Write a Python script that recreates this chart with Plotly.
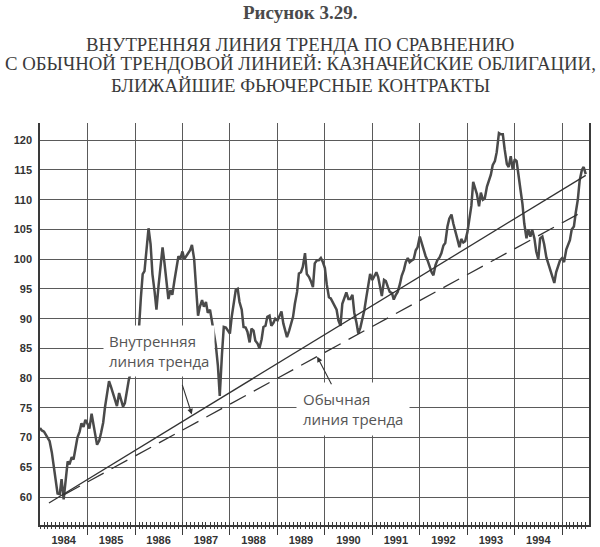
import pandas as pd
import plotly.graph_objects as go

# ---------------- data ----------------
# semi-monthly samples (1st and 15th of each month), Jan 1984 .. Jul 1995
start_date = "1984-01-01"
end_date = "1995-07-01"

price_1984 = [71.6, 71.2, 71.0, 70.5, 70.0, 69.4, 67.5, 65.5, 63.0, 60.6, 60.5, 63.0,
              59.6, 62.5, 66.0, 65.5, 66.7, 66.3, 68.3, 70.0, 71.0, 72.4, 71.8, 73.0]
price_1985 = [72.3, 71.5, 74.0, 72.5, 70.5, 68.8, 69.5, 70.8, 72.5, 75.1, 78.0, 79.5,
              78.5, 77.5, 76.0, 75.3, 77.5, 76.5, 75.2, 75.8, 78.3, 79.8, 81.0, 84.0]
price_1986 = [85.5, 87.0, 88.5, 93.5, 97.5, 98.0, 101.5, 105.2, 102.5, 97.5, 94.5, 91.5,
              95.5, 99.0, 102.0, 99.5, 95.8, 93.3, 94.8, 94.0, 96.5, 98.8, 100.5, 100.0]
price_1987 = [101.3, 100.0, 100.5, 101.0, 101.5, 102.4, 100.0, 95.5, 90.5, 92.0, 93.1, 92.0,
              92.8, 91.0, 91.5, 89.7, 87.5, 85.5, 82.0, 77.0, 84.0, 88.6, 88.5, 88.0]
price_1988 = [87.5, 90.3, 93.0, 94.8, 95.0, 92.8, 91.5, 88.6, 88.5, 87.8, 86.0, 88.3,
              88.0, 86.3, 85.8, 85.0, 86.5, 88.6, 88.8, 90.3, 90.5, 88.8, 89.3, 90.0]
price_1989 = [89.7, 90.5, 91.2, 89.2, 88.0, 86.9, 88.0, 89.2, 90.3, 92.5, 94.5, 97.6,
              97.8, 98.7, 101.0, 97.5, 97.0, 96.3, 95.3, 99.3, 99.8, 99.8, 100.2, 99.6]
price_1990 = [98.5, 95.8, 93.6, 93.4, 92.8, 92.0, 91.5, 89.7, 88.8, 92.5, 93.5, 94.4,
              93.3, 93.3, 94.0, 91.0, 89.3, 87.5, 88.5, 89.7, 91.5, 93.5, 95.6, 97.5]
price_1991 = [96.5, 97.0, 97.8, 97.0, 95.0, 93.8, 96.5, 96.3, 95.3, 94.5, 94.3, 93.2,
              94.0, 94.5, 95.8, 97.2, 98.2, 99.5, 100.2, 99.5, 99.8, 100.0, 101.5, 102.0]
price_1992 = [103.8, 102.8, 101.3, 100.5, 99.8, 98.7, 97.8, 97.3, 99.0, 99.8, 100.3, 101.0,
              102.3, 102.7, 105.5, 106.8, 107.5, 106.0, 104.8, 103.5, 102.0, 103.4, 102.8, 103.0]
price_1993 = [104.5, 106.5, 109.0, 113.0, 112.0, 111.0, 108.9, 111.2, 110.0, 110.2, 112.2, 113.0,
              114.2, 115.8, 116.5, 118.0, 121.2, 121.0, 121.0, 118.5, 116.0, 115.5, 117.3, 115.2]
price_1994 = [116.8, 116.5, 113.2, 111.5, 109.3, 106.0, 103.5, 105.0, 103.8, 105.0, 103.5, 101.3,
              100.0, 103.5, 103.8, 102.5, 100.3, 99.3, 98.5, 97.5, 96.0, 97.8, 99.0, 99.8]
price_1995 = [100.2, 99.5, 101.6, 102.3, 103.2, 105.0, 105.5, 107.8, 110.0, 113.2, 115.0, 115.5, 114.3]

# internal trend line (solid) and conventional trend line (dashed): end points
inner_dates = ["1984-03-10", "1995-07-01"]
inner_vals = [59.0, 114.1]
usual_dates = ["1984-07-05", "1995-06-24"]
usual_vals = [60.4, 108.2]

year_labels = [str(y) for y in range(1984, 1995)]
y_ticks = [60, 65, 70, 75, 80, 85, 90, 95, 100, 105, 110, 115, 120]

title_fig = "Рисунок 3.29."
title_lines = ["ВНУТРЕННЯЯ ЛИНИЯ ТРЕНДА ПО СРАВНЕНИЮ",
               "С ОБЫЧНОЙ ТРЕНДОВОЙ ЛИНИЕЙ: КАЗНАЧЕЙСКИЕ ОБЛИГАЦИИ,",
               "БЛИЖАЙШИЕ ФЬЮЧЕРСНЫЕ КОНТРАКТЫ"]
label_inner = ["Внутренняя", "линия тренда"]
label_usual = ["Обычная", "линия тренда"]

# ---------------- figure ----------------
prices = (price_1984 + price_1985 + price_1986 + price_1987 + price_1988 + price_1989 +
          price_1990 + price_1991 + price_1992 + price_1993 + price_1994 + price_1995)
dates = pd.date_range(start_date, end_date, freq="SMS")

x_range = ["1984-01-01", "1995-07-26"]
y_range = [55.3, 122.9]
grid_c = "#5a5a5a"
ink = "#3a3a3a"
tick_font = dict(family="Liberation Sans, Arial, sans-serif", size=11, color="#333", weight="bold")

fig = go.Figure()
fig.add_trace(go.Scatter(x=dates, y=prices, mode="lines",
                         line=dict(color="#4a4a4a", width=2.5), showlegend=False, hoverinfo="skip"))
fig.add_trace(go.Scatter(x=inner_dates, y=inner_vals, mode="lines",
                         line=dict(color="#333", width=1.3), showlegend=False, hoverinfo="skip"))
fig.add_trace(go.Scatter(x=usual_dates, y=usual_vals, mode="lines",
                         line=dict(color="#333", width=1.3, dash="18px,9px"), showlegend=False, hoverinfo="skip"))
# invisible helpers so that the overlay axes (labels, monthly ticks) are drawn
for ax_name in ["x2", "x3", "x4"]:
    fig.add_trace(go.Scatter(x=x_range, y=y_range, xaxis=ax_name, yaxis="y", mode="lines",
                             line=dict(width=0, color="rgba(0,0,0,0)"),
                             showlegend=False, hoverinfo="skip"))

year_starts = [f"{y}-01-01" for y in range(1985, 1996)]
year_mids = [f"{y}-07-01" for y in range(1984, 1995)]

fig.update_layout(
    width=600, height=547,
    margin=dict(l=40, r=11, t=123, b=22, autoexpand=False),
    paper_bgcolor="white", plot_bgcolor="white",
    xaxis=dict(type="date", range=x_range, tickmode="array", tickvals=year_starts,
               showticklabels=False, ticks="outside", ticklen=8, tickcolor=ink, tickwidth=1.2,
               showgrid=True, gridcolor=grid_c, gridwidth=1, zeroline=False, automargin=False,
               showline=True, linecolor=ink, linewidth=1.5),
    xaxis2=dict(type="date", range=x_range, overlaying="x", anchor="y", side="bottom",
                tickmode="array", tickvals=year_mids, ticktext=year_labels,
                ticks="outside", ticklen=5, tickcolor="rgba(0,0,0,0)", automargin=False,
                tickfont=tick_font, showgrid=False, zeroline=False, showline=False),
    xaxis3=dict(type="date", range=x_range, overlaying="x", anchor="y", side="bottom",
                tickmode="linear", tick0="1984-01-01", dtick="M1", ticks="inside", ticklen=3,
                tickcolor=ink, tickwidth=1, showticklabels=False, showgrid=False, automargin=False,
                zeroline=False, showline=False),
    xaxis4=dict(type="date", range=x_range, overlaying="x", anchor="y", side="bottom",
                tickmode="linear", tick0="1984-01-01", dtick="M1", ticks="outside", ticklen=3,
                tickcolor=ink, tickwidth=1, showticklabels=False, showgrid=False, automargin=False,
                zeroline=False, showline=False),
    yaxis=dict(range=y_range, tickmode="array", tickvals=y_ticks,
               ticks="outside", ticklen=4, tickcolor="rgba(0,0,0,0)", automargin=False,
               tickfont=tick_font, showgrid=True, gridcolor=grid_c, gridwidth=1,
               zeroline=False, showline=True, linecolor=ink, linewidth=1.5, mirror=True),
)

# titles
fig.add_annotation(xref="paper", yref="paper", x=0.4736, y=1.2761, text=f"<b>{title_fig}</b>",
                   showarrow=False, xanchor="center", yanchor="middle",
                   font=dict(family="Liberation Serif", size=19, color="#4a4a4a"))
for line_text, y_pos in zip(title_lines, [1.1965, 1.1468, 1.0945]):
    fig.add_annotation(xref="paper", yref="paper", x=0.4736, y=y_pos, text=line_text,
                       showarrow=False, xanchor="center", yanchor="middle",
                       font=dict(family="Liberation Serif", size=18.8, color="#3a3a3a"))

# text labels with white boxes
lab_font = dict(family="Open Sans", size=15, color="#555")
fig.add_annotation(xref="paper", yref="paper", x=0.1148, y=0.4975, text="<br>".join(label_inner),
                   showarrow=False, xanchor="left", yanchor="top", align="left",
                   bgcolor="white", borderpad=5, font=lab_font)
fig.add_annotation(xref="paper", yref="paper", x=0.4663, y=0.3557, text="<br>".join(label_usual),
                   showarrow=False, xanchor="left", yanchor="top", align="left",
                   bgcolor="white", borderpad=6, font=lab_font)

# arrows
fig.add_annotation(x="1987-03-14", y=73.9, xref="x", yref="y", text="", showarrow=True,
                   ax=-10, ay=-31, arrowhead=2, arrowsize=1, arrowwidth=1.1, arrowcolor="#333")
fig.add_annotation(x="1989-11-03", y=83.6, xref="x", yref="y", text="", showarrow=True,
                   ax=15, ay=29, arrowhead=2, arrowsize=1, arrowwidth=1.1, arrowcolor="#333")

# remove the page's default 8px body margin so the figure fills the window exactly
fig.write_html("out.html", config={"displayModeBar": False},
               post_script="document.body.style.margin='0px';")
